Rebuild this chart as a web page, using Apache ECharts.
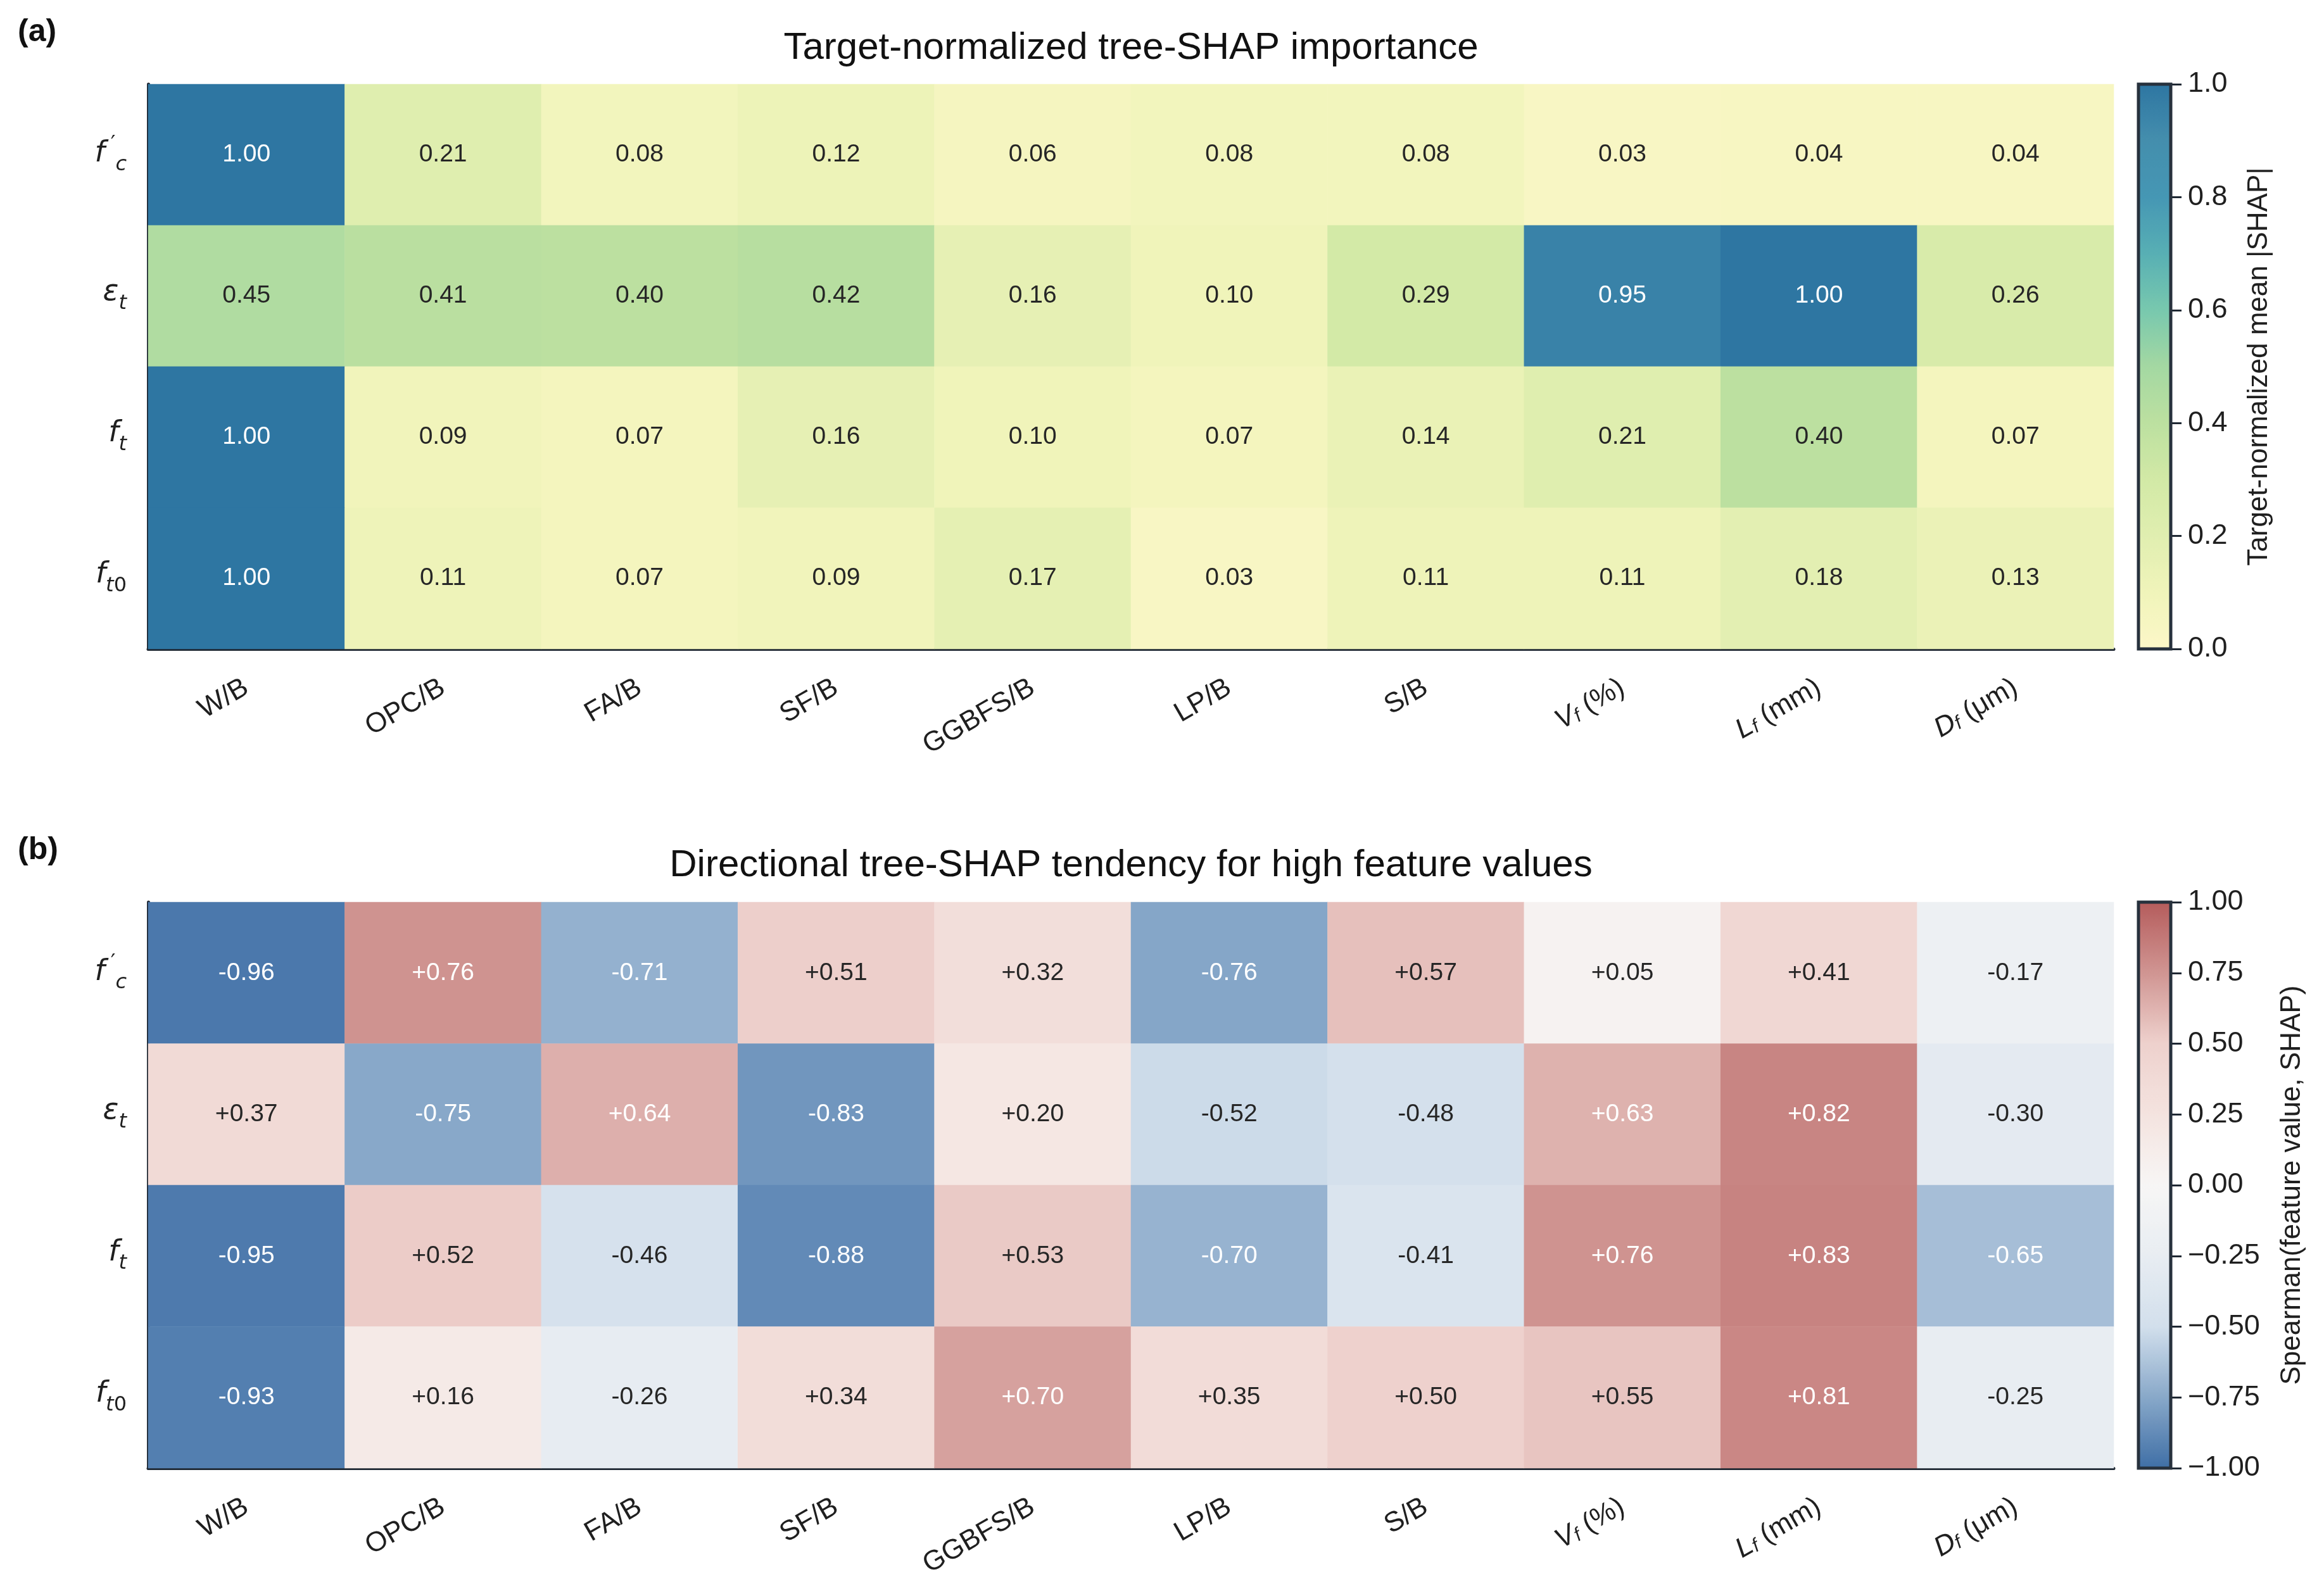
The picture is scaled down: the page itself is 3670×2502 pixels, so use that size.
<!DOCTYPE html>
<html>
<head>
<meta charset="utf-8">
<title>tree-SHAP heatmaps</title>
<script src="https://cdn.jsdelivr.net/npm/echarts@6/dist/echarts.min.js"></script>
<style>
    html, body { margin: 0; padding: 0; background: #ffffff; }
    #shapChart { width: 3670px; height: 2502px; }
</style>
</head>
<body>
<div id="shapChart"></div>
<script>
var features = ['W/B', 'OPC/B', 'FA/B', 'SF/B', 'GGBFS/B', 'LP/B', 'S/B', 'Vf (%)', 'Lf (mm)', 'Df (μm)'];
var targets = ["f'c", 'εt', 'ft', 'ft0'];

// panel (a): target-normalized mean |SHAP|, one row per target
var importance = [
    [1.00, 0.21, 0.08, 0.12, 0.06, 0.08, 0.08, 0.03, 0.04, 0.04],
    [0.45, 0.41, 0.40, 0.42, 0.16, 0.10, 0.29, 0.95, 1.00, 0.26],
    [1.00, 0.09, 0.07, 0.16, 0.10, 0.07, 0.14, 0.21, 0.40, 0.07],
    [1.00, 0.11, 0.07, 0.09, 0.17, 0.03, 0.11, 0.11, 0.18, 0.13]
];

// panel (b): Spearman(feature value, SHAP)
var tendency = [
    [-0.96, 0.76, -0.71, 0.51, 0.32, -0.76, 0.57, 0.05, 0.41, -0.17],
    [0.37, -0.75, 0.64, -0.83, 0.20, -0.52, -0.48, 0.63, 0.82, -0.30],
    [-0.95, 0.52, -0.46, -0.88, 0.53, -0.70, -0.41, 0.76, 0.83, -0.65],
    [-0.93, 0.16, -0.26, 0.34, 0.70, 0.35, 0.50, 0.55, 0.81, -0.25]
];

var importanceRange = [0, 1];
var importanceStep = 0.2;
var tendencyRange = [-1, 1];
var tendencyStep = 0.25;

var ChartUtils = {
    font: '"Liberation Sans", Arial, sans-serif',
    ink: '#1f1f1f',
    spine: '#1f2833',
    ylgnbu: ['#fcf7c8', '#f0f4ba', '#e0eeb0', '#d2e9a6', '#bce0a0', '#a4d8a2',
             '#78c8ae', '#58afb4', '#4597b4', '#448ead', '#2e76a2'],
    rdbu: ['#3f6fa6', '#88a8c9', '#d2dfec', '#e8edf2', '#f7f6f5',
           '#f4e3df', '#eed1cd', '#d09592', '#b55c5c'],

    init: function () {
        this.draw('shapChart');
    },
    toCells: function (rows) {
        var cells = [];
        rows.forEach(function (row, r) {
            row.forEach(function (v, c) {
                cells.push({
                    value: [c, r, v],
                    label: {color: Math.abs(v) >= 0.6 ? '#ffffff' : '#262626'}
                });
            });
        });
        return cells;
    },
    featureLabel: function (name) {
        var map = {
            'Vf (%)': '{i|V}{s|f}{n| (%)}',
            'Lf (mm)': '{i|L}{s|f}{n| (mm)}',
            'Df (μm)': '{i|D}{s|f}{n| (μm)}'
        };
        return map[name] || '{n|' + name + '}';
    },
    targetLabel: function (name) {
        var map = {
            "f'c": '{i|f}{p|′}{s|c}',
            'εt': '{i|ε}{s|t}',
            'ft': '{i|f}{s|t}',
            'ft0': '{i|f}{s|t}{z|0}'
        };
        return map[name] || name;
    },
    heatAxes: function (gi) {
        var self = this;
        var x = {
            type: 'category',
            gridIndex: gi,
            data: features,
            axisLine: {lineStyle: {color: this.spine, width: 5}},
            axisTick: {alignWithLabel: true, length: 17, lineStyle: {color: this.spine, width: 3}},
            splitLine: {show: false},
            axisLabel: {
                rotate: 30,
                margin: 58,
                interval: 0,
                formatter: function (v) { return self.featureLabel(v); },
                rich: {
                    n: {fontSize: 44, fontFamily: this.font, color: this.ink},
                    i: {fontSize: 44, fontFamily: this.font, fontStyle: 'italic', color: this.ink},
                    s: {fontSize: 30, fontFamily: this.font, fontStyle: 'italic', color: this.ink,
                        verticalAlign: 'bottom', padding: [14, 0, 0, 0]}
                }
            }
        };
        var y = {
            type: 'category',
            gridIndex: gi,
            data: targets,
            inverse: true,
            axisLine: {lineStyle: {color: this.spine, width: 5}},
            axisTick: {alignWithLabel: true, length: 17, lineStyle: {color: this.spine, width: 3}},
            splitLine: {show: false},
            axisLabel: {
                margin: 34,
                formatter: function (v) { return self.targetLabel(v); },
                rich: {
                    i: {fontSize: 46, fontFamily: 'DejaVu Sans', fontStyle: 'italic', color: this.ink,
                        verticalAlign: 'bottom', padding: [0, 0, 10, 0]},
                    p: {fontSize: 34, fontFamily: 'DejaVu Sans', color: this.ink,
                        verticalAlign: 'bottom', padding: [0, 0, 30, 9]},
                    s: {fontSize: 32, fontFamily: 'DejaVu Sans', fontStyle: 'italic', color: this.ink,
                        verticalAlign: 'bottom'},
                    z: {fontSize: 32, fontFamily: 'DejaVu Sans', color: this.ink,
                        verticalAlign: 'bottom'}
                }
            }
        };
        return {x: x, y: y};
    },
    barAxes: function (gi, range, step, digits, name, gap) {
        var x = {type: 'category', gridIndex: gi, data: [''], show: false};
        var y = {
            type: 'value',
            gridIndex: gi,
            position: 'right',
            min: range[0],
            max: range[1],
            interval: step,
            axisLine: {show: false},
            axisTick: {show: true, length: 17, lineStyle: {color: this.spine, width: 3}},
            splitLine: {show: false},
            axisLabel: {
                margin: 27,
                fontSize: 45,
                fontFamily: this.font,
                color: this.ink,
                formatter: function (v) { return v.toFixed(digits).replace('-', '\u2212'); }
            },
            name: name,
            nameLocation: 'middle',
            nameRotate: 90,
            nameGap: gap,
            nameTextStyle: {fontSize: 44, fontFamily: this.font, color: this.ink}
        };
        return {x: x, y: y};
    },
    draw: function (id) {
        var a = this.heatAxes(0);
        var b = this.heatAxes(1);
        var ca = this.barAxes(2, importanceRange, importanceStep, 1, 'Target-normalized mean |SHAP|', 118);
        var cb = this.barAxes(3, tendencyRange, tendencyStep, 2, 'Spearman(feature value, SHAP)', 170);
        var frame = {show: true, borderColor: '#27313d', borderWidth: 5, backgroundColor: 'transparent', z: 10};
        var cellLabel = {show: true, fontSize: 39, fontFamily: this.font};

        var option = {
            backgroundColor: '#ffffff',
            animation: false,
            title: [
                {text: '(a)', left: 28, top: 26, padding: 0,
                    textStyle: {fontSize: 50, fontWeight: 'bold', fontFamily: this.font, color: '#111'}},
                {text: 'Target-normalized tree-SHAP importance', left: 1786, top: 46, padding: 0, textAlign: 'center',
                    textStyle: {fontSize: 60, fontWeight: 'normal', fontFamily: this.font, color: '#111'}},
                {text: '(b)', left: 28, top: 1318, padding: 0,
                    textStyle: {fontSize: 50, fontWeight: 'bold', fontFamily: this.font, color: '#111'}},
                {text: 'Directional tree-SHAP tendency for high feature values', left: 1786, top: 1337, padding: 0,
                    textAlign: 'center',
                    textStyle: {fontSize: 60, fontWeight: 'normal', fontFamily: this.font, color: '#111'}}
            ],
            grid: [
                {left: 234, top: 133, width: 3104, height: 892},
                {left: 234, top: 1425, width: 3104, height: 894},
                Object.assign({left: 3377, top: 133, width: 51, height: 892}, frame),
                Object.assign({left: 3377, top: 1425, width: 51, height: 894}, frame)
            ],
            xAxis: [a.x, b.x, ca.x, cb.x],
            yAxis: [a.y, b.y, ca.y, cb.y],
            visualMap: [
                {
                    type: 'continuous', seriesIndex: 0, dimension: 2,
                    min: importanceRange[0], max: importanceRange[1],
                    inRange: {color: this.ylgnbu},
                    left: 3377, top: 133, itemWidth: 51, itemHeight: 892,
                    padding: 0, calculable: false, hoverLink: false
                },
                {
                    type: 'continuous', seriesIndex: 1, dimension: 2,
                    min: tendencyRange[0], max: tendencyRange[1],
                    inRange: {color: this.rdbu},
                    left: 3377, top: 1425, itemWidth: 51, itemHeight: 894,
                    padding: 0, calculable: false, hoverLink: false
                }
            ],
            series: [
                {
                    type: 'heatmap',
                    xAxisIndex: 0,
                    yAxisIndex: 0,
                    data: this.toCells(importance),
                    label: Object.assign({formatter: function (p) { return p.value[2].toFixed(2); }}, cellLabel),
                    emphasis: {disabled: true}
                },
                {
                    type: 'heatmap',
                    xAxisIndex: 1,
                    yAxisIndex: 1,
                    data: this.toCells(tendency),
                    label: Object.assign({formatter: function (p) {
                        var v = p.value[2];
                        return (v > 0 ? '+' : '') + v.toFixed(2);
                    }}, cellLabel),
                    emphasis: {disabled: true}
                }
            ]
        };
        var panel = document.getElementById(id);
        var chart = echarts.init(panel);
        chart.setOption(option);
    }
};

ChartUtils.init();
</script>
</body>
</html>
